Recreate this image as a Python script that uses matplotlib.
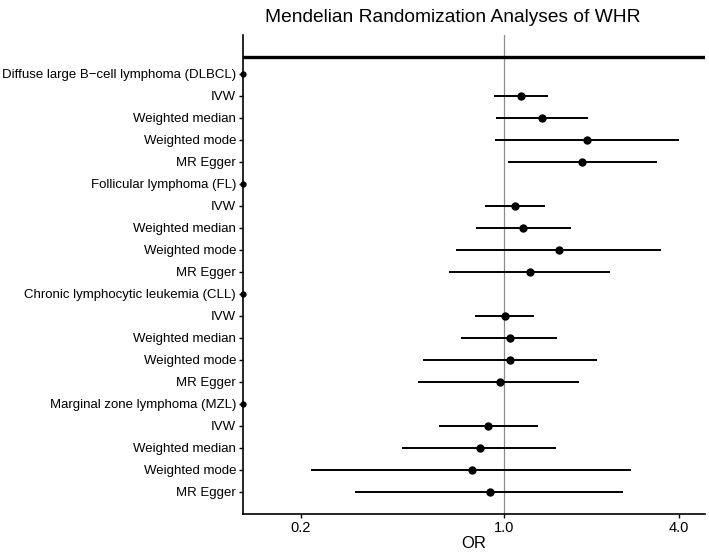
import numpy as np
import matplotlib
matplotlib.use("Agg")
import matplotlib.pyplot as plt

plt.rcParams['font.family'] = ['Liberation Sans', 'DejaVu Sans']

# Data (top to bottom); headers carry no estimate
labels = [
    "Diffuse large B\u2212cell lymphoma (DLBCL)", "IVW", "Weighted median", "Weighted mode", "MR Egger",
    "Follicular lymphoma (FL)", "IVW", "Weighted median", "Weighted mode", "MR Egger",
    "Chronic lymphocytic leukemia (CLL)", "IVW", "Weighted median", "Weighted mode", "MR Egger",
    "Marginal zone lymphoma (MZL)", "IVW", "Weighted median", "Weighted mode", "MR Egger",
]
is_header = [True, False, False, False, False] * 4
odds_ratio = [np.nan, 1.147, 1.355, 1.937, 1.867,
              np.nan, 1.097, 1.169, 1.551, 1.229,
              np.nan, 1.008, 1.049, 1.049, 0.969,
              np.nan, 0.885, 0.827, 0.778, 0.897]
ci_low = [np.nan, 0.926, 0.944, 0.933, 1.032,
          np.nan, 0.865, 0.805, 0.687, 0.646,
          np.nan, 0.797, 0.715, 0.527, 0.508,
          np.nan, 0.597, 0.448, 0.218, 0.309]
ci_high = [np.nan, 1.421, 1.943, 4.01, 3.36,
           np.nan, 1.388, 1.711, 3.468, 2.319,
           np.nan, 1.272, 1.531, 2.103, 1.823,
           np.nan, 1.310, 1.511, 2.747, 2.571]
xticks = [0.2, 1.0, 4.0]
xlim = (0.1267, 4.93)

n = len(labels)
ypos = np.arange(n, 0, -1)

fig = plt.figure(figsize=(7.09, 5.53), dpi=100)
ax = fig.add_axes([243 / 709, 1 - 514 / 553, (705 - 243) / 709, (514 - 35) / 553])

ax.set_xscale('log')
ax.set_xlim(*xlim)
ax.set_ylim(0, n + 1.77)

# reference line
ax.axvline(1.0, color='#8c8c8c', lw=0.9, zorder=1)

# header bar
ax.axhline(n + 0.79, color='black', lw=2.4, zorder=2)

or_arr = np.array(odds_ratio)
lo = np.array(ci_low)
hi = np.array(ci_high)
ok = ~np.isnan(or_arr)
ax.hlines(ypos[ok], lo[ok], hi[ok], color='black', lw=1.4, zorder=3)
ax.plot(or_arr[ok], ypos[ok], 'o', color='black', ms=5, zorder=4)

# header rows drawn at the left edge
hdr = np.array(is_header)
ax.plot(np.full(hdr.sum(), xlim[0]), ypos[hdr], 'o', color='black', ms=3.5,
        clip_on=False, zorder=5)

ax.set_yticks(ypos)
ax.set_yticklabels(labels, fontsize=9.55, color='black')
ax.set_xticks(xticks)
ax.set_xticklabels(["%.1f" % v for v in xticks], fontsize=10.5, color='black')
ax.xaxis.set_minor_locator(matplotlib.ticker.NullLocator())
ax.tick_params(axis='both', length=3, width=1, pad=2)

for s in ['top', 'right']:
    ax.spines[s].set_visible(False)
for s in ['left', 'bottom']:
    ax.spines[s].set_linewidth(1.2)

ax.set_xlabel("OR", fontsize=12, labelpad=1)
fig.text(453 / 709, 1 - 17 / 553, "Mendelian Randomization Analyses of WHR",
         fontsize=13.8, ha='center', va='center')

fig.savefig("out.png", dpi=100)
